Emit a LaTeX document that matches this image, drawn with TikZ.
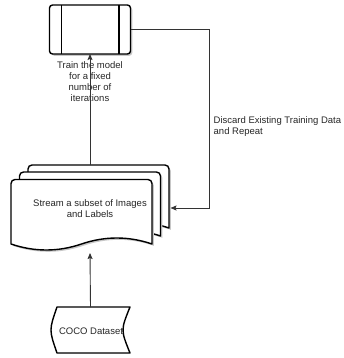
\documentclass[tikz,border=0pt]{standalone}
\usepackage{fontspec}
\setmainfont{Liberation Sans}
\usetikzlibrary{arrows.meta}

\newcommand\docshape[5]{% options, L, R, T, B
  \path[#1] (#2,#5) -- (#2,#4+4) arc[start angle=180,end angle=270,radius=4]
    -- (#3-4,#4) arc[start angle=270,end angle=360,radius=4]
    -- (#3,#5)
    .. controls ({#3-(#3-#2)/6},#5-8) and ({(#2+#3)/2+(#3-#2)/6},#5-8) .. ({(#2+#3)/2},#5)
    .. controls ({(#2+#3)/2-(#3-#2)/6},#5+8) and ({#2+(#3-#2)/6},#5+8) .. (#2,#5) -- cycle;}
\newcommand\docsheet[4]{%
  \docshape{fill=black!22, shift={(1.8,1.8)}}{#1}{#2}{#3}{#4}%
  \docshape{shapeline}{#1}{#2}{#3}{#4}}

\begin{document}
\begin{tikzpicture}[x=1pt,y=-1pt,
  shapeline/.style={draw=black, line width=1.4pt, fill=white, line join=round},
  shadowfill/.style={fill=black!22, draw=none},
  conn/.style={draw=black!80, line width=0.9pt, -{Stealth[length=6pt,width=5pt,inset=1pt]}},
  lbl/.style={font=\fontsize{9.5}{11}\selectfont, text=black!85, inner sep=0pt, align=center},
  boxnode/.style={draw=none, inner sep=0pt, outer sep=0pt}
]
\useasboundingbox (0,0) rectangle (343,358);

% process box
\node[boxnode, minimum width=81pt, minimum height=49pt] (train) at (90,29.5) {};
\fill[shadowfill, rounded corners=3pt] ([shift={(1.8,1.8)}]train.north west) rectangle ([shift={(1.8,1.8)}]train.south east);
\draw[shapeline, rounded corners=3pt] (train.north west) rectangle (train.south east);
\draw[line width=1.4pt] ([xshift=12pt]train.north west) -- ([xshift=12pt]train.south west);
\draw[line width=1.4pt] ([xshift=-11.5pt]train.north east) -- ([xshift=-11.5pt]train.south east);
\node[lbl] (trainlbl) at (90,82) {Train the model\\for a fixed\\number of\\iterations};

% document stack
\docsheet{28}{169}{165}{228}
\docsheet{19.5}{160.5}{172}{236}
\docsheet{11}{152}{179.5}{244}
\node[boxnode, lbl, minimum width=158pt, minimum height=88pt] (stream) at (90,209) {Stream a subset of Images\\and Labels};

% stored data
\node[boxnode, minimum width=79pt, minimum height=46pt] (coco) at (90.5,330) {};
\path[shadowfill, shift={(1.8,1.8)}] ([xshift=6pt]coco.north west) -- (coco.north east)
  .. controls ([xshift=-9.3pt]coco.east) .. (coco.south east)
  -- ([xshift=6pt]coco.south west)
  .. controls ([xshift=-2pt]coco.west) .. ([xshift=6pt]coco.north west) -- cycle;
\path[shapeline] ([xshift=6pt]coco.north west) -- (coco.north east)
  .. controls ([xshift=-9.3pt]coco.east) .. (coco.south east)
  -- ([xshift=6pt]coco.south west)
  .. controls ([xshift=-2pt]coco.west) .. ([xshift=6pt]coco.north west) -- cycle;
\node[lbl] (cocolbl) at (91,331) {COCO Dataset};

% connectors
\coordinate (loop) at (209,208);
\draw[conn] (coco.north) -- (stream.south);
\draw[conn] (stream.north) -- (train.south);
\draw[conn, shorten >=1.5pt] (train.east) -| (loop) -- (loop -| stream.east);
\node[lbl, align=left, anchor=west] (discard) at (213.5,127) {Discard Existing Training Data\\and Repeat};
\end{tikzpicture}
\end{document}
